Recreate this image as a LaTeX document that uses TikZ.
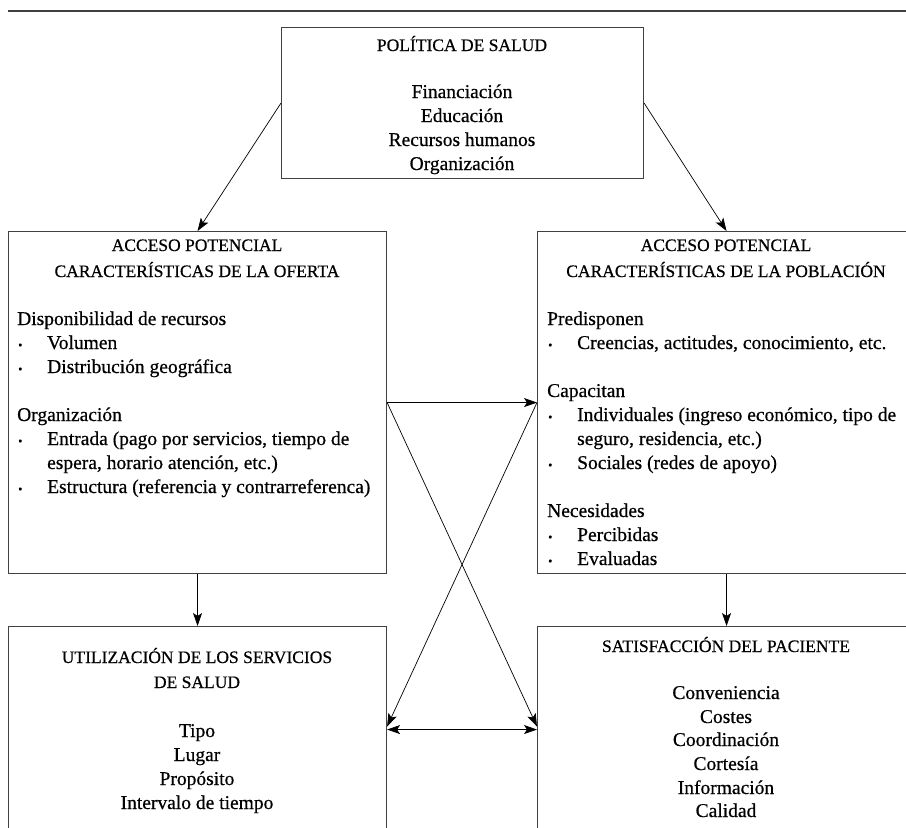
\documentclass[tikz,border=0pt]{standalone}
\usepackage{fontspec}
\setmainfont{Liberation Serif}[FakeBold=0.6]
\usetikzlibrary{arrows.meta}
\tikzset{
  box/.style={draw=black!75, line width=1.1pt, inner sep=0pt, anchor=north west},
  conn/.style={line width=0.7pt, -{Stealth[length=13pt,width=9pt,inset=3pt]}},
  dconn/.style={line width=0.7pt, {Stealth[length=13pt,width=9pt,inset=3pt]}-{Stealth[length=13pt,width=9pt,inset=3pt]}},
  rule/.style={draw=black!75, line width=1.2pt},
  ttl/.style={font=\fontsize{17.5}{20}\selectfont, anchor=base, inner sep=0pt},
  txt/.style={font=\fontsize{19.5}{24}\selectfont, anchor=base, inner sep=0pt},
  txl/.style={txt, anchor=base west},
  bul/.style={font=\fontsize{12}{14}\selectfont, anchor=base west, inner sep=0pt}
}
\begin{document}
\begin{tikzpicture}[x=1pt,y=-1pt]
\useasboundingbox (0,0) rectangle (906,828);
\clip (0,0) rectangle (906,828);
% top rule
\draw[rule] (8,11) -- (906,11);
% boxes
\node[box, minimum width=362pt, minimum height=151pt] (pol) at (281,27) {};
\node[box, minimum width=378pt, minimum height=342pt] (ofe) at (8,231) {};
\node[box, minimum width=378pt, minimum height=342pt] (pob) at (537,231) {};
\node[box, minimum width=378pt, minimum height=206pt] (uti) at (8,626) {};
\node[box, minimum width=378pt, minimum height=206pt] (sat) at (537,626) {};
% top box text
\node[ttl] (p0) at (462,51) {POLÍTICA DE SALUD};
\node[txt] (p1) at (462,98) {Financiación};
\node[txt] (p2) at (462,122) {Educación};
\node[txt] (p3) at (462,146) {Recursos humanos};
\node[txt] (p4) at (462,170) {Organización};
% left middle box
\node[ttl] (o0) at (197,251) {ACCESO POTENCIAL};
\node[ttl] (o1) at (197,277) {CARACTERÍSTICAS DE LA OFERTA};
\node[txl] (o2) at (17,325) {Disponibilidad de recursos};
\node[bul] (ob1) at (18,349) {•};
\node[txl] (o3) at (47,349) {Volumen};
\node[bul] (ob2) at (18,373) {•};
\node[txl] (o4) at (47,373) {Distribución geográfica};
\node[txl] (o5) at (17,421) {Organización};
\node[bul] (ob3) at (18,445) {•};
\node[txl] (o6) at (47,445) {Entrada (pago por servicios, tiempo de};
\node[txl] (o7) at (47,469) {espera, horario atención, etc.)};
\node[bul] (ob4) at (18,493) {•};
\node[txl] (o8) at (47,493) {Estructura (referencia y contrarreferenca)};
% right middle box
\node[ttl] (q0) at (726,251) {ACCESO POTENCIAL};
\node[ttl] (q1) at (726,277) {CARACTERÍSTICAS DE LA POBLACIÓN};
\node[txl] (q2) at (547,325) {Predisponen};
\node[bul] (qb1) at (548,349) {•};
\node[txl] (q3) at (577,349) {Creencias, actitudes, conocimiento, etc.};
\node[txl] (q4) at (547,397) {Capacitan};
\node[bul] (qb2) at (548,421) {•};
\node[txl] (q5) at (577,421) {Individuales (ingreso económico, tipo de};
\node[txl] (q6) at (577,445) {seguro, residencia, etc.)};
\node[bul] (qb3) at (548,469) {•};
\node[txl] (q7) at (577,469) {Sociales (redes de apoyo)};
\node[txl] (q8) at (547,517) {Necesidades};
\node[bul] (qb4) at (548,541) {•};
\node[txl] (q9) at (577,541) {Percibidas};
\node[bul] (qb5) at (548,565) {•};
\node[txl] (q10) at (577,565) {Evaluadas};
% bottom left box
\node[ttl] (u0) at (197,663) {UTILIZACIÓN DE LOS SERVICIOS};
\node[ttl] (u1) at (197,688) {DE SALUD};
\node[txt] (u2) at (197,737) {Tipo};
\node[txt] (u3) at (197,761) {Lugar};
\node[txt] (u4) at (197,785) {Propósito};
\node[txt] (u5) at (197,809) {Intervalo de tiempo};
% bottom right box
\node[ttl] (s0) at (726,652) {SATISFACCIÓN DEL PACIENTE};
\node[txt] (s1) at (726,699) {Conveniencia};
\node[txt] (s2) at (726,723) {Costes};
\node[txt] (s3) at (726,746) {Coordinación};
\node[txt] (s4) at (726,770) {Cortesía};
\node[txt] (s5) at (726,794) {Información};
\node[txt] (s6) at (726,817) {Calidad};
% connectors
\draw[conn] (pol.west) -- (ofe.north);
\draw[conn] (pol.east) -- (pob.north);
\draw[conn] (ofe.east) -- (pob.west);
\draw[conn] (ofe.east) -- ([yshift=3pt]sat.west);
\draw[conn] (pob.west) -- ([yshift=3pt]uti.east);
\draw[conn] (ofe.south) -- (uti.north);
\draw[conn] (pob.south) -- (sat.north);
\draw[dconn] (uti.east) -- (sat.west);
\end{tikzpicture}
\end{document}
